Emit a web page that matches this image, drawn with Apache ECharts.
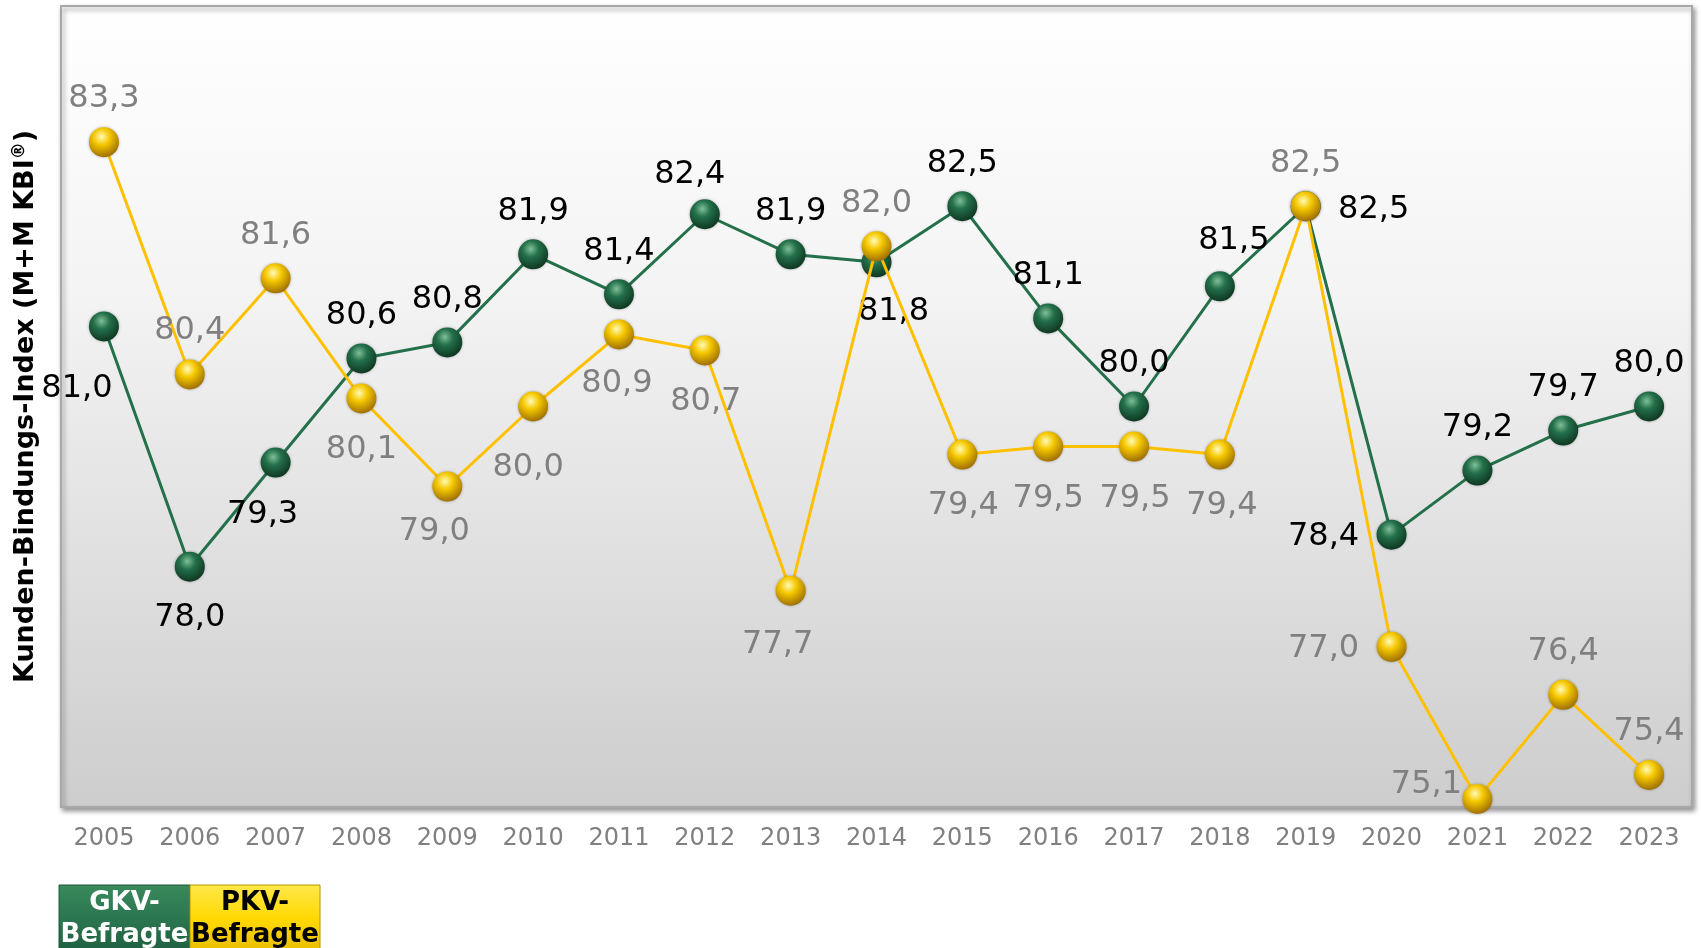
<!DOCTYPE html>
<html>
<head>
<meta charset="utf-8">
<script src="https://cdn.jsdelivr.net/npm/echarts@6/dist/echarts.min.js"></script>
<style>
html,body{margin:0;padding:0;background:#fff;}
#chart{width:1701px;height:948px;}
</style>
</head>
<body>
<div id="chart"></div>
<script>
// ---- data ----
var years = ['2005','2006','2007','2008','2009','2010','2011','2012','2013','2014','2015','2016','2017','2018','2019','2020','2021','2022','2023'];
var gkvValues = [81.0,78.0,79.3,80.6,80.8,81.9,81.4,82.4,81.9,81.8,82.5,81.1,80.0,81.5,82.5,78.4,79.2,79.7,80.0];
var pkvValues = [83.3,80.4,81.6,80.1,79.0,80.0,80.9,80.7,77.7,82.0,79.4,79.5,79.5,79.4,82.5,77.0,75.1,76.4,75.4];
var seriesNames = ['GKV-Befragte','PKV-Befragte'];
var legendLabels = ['GKV-\nBefragte','PKV-\nBefragte'];
var yAxisTitle = 'Kunden-Bindungs-Index (M+M KBI';

// ---- label placement (offsets from marker centre, px) ----
var gkvLabelOffsets = [[-27,62],[0,51],[-13,52],[0,-43],[0,-43],[0,-43],[0,-43],[-15,-40],[0,-43],[17,49],[0,-43],[0,-43],[0,-43],[14,-46],[68,3],[-68,2],[0,-43],[0,-43],[0,-43]];
var pkvLabelOffsets = [[0,-43],[0,-44],[0,-43],[0,51],[-13,45],[-5,61],[-2,49],[1,51],[-13,54],[0,-43],[1,51],[0,52],[1,52],[2,51],[0,-43],[-68,2],[-51,-14],[0,-43],[0,-43]];

var FONT = '"DejaVu Sans", Verdana, sans-serif';

function sphere(light, mid, dark) {
  return {
    type: 'radial', x: 0.42, y: 0.32, r: 0.68,
    colorStops: [
      {offset: 0, color: light},
      {offset: 0.4, color: mid},
      {offset: 1, color: dark}
    ]
  };
}

function buildData(values, offsets, color) {
  return values.map(function (v, i) {
    return {
      value: v,
      label: {
        show: true,
        position: 'inside',
        offset: offsets[i],
        color: color,
        fontFamily: FONT,
        fontSize: 32,
        formatter: function (p) { return p.value.toFixed(1).replace('.', ','); }
      }
    };
  });
}

var chart = echarts.init(document.getElementById('chart'), null, {renderer: 'canvas'});

var option = {
  animation: false,
  backgroundColor: '#ffffff',
  grid: {
    left: 61, right: 9, top: 6, bottom: 141,
    outerBoundsMode: 'none',
    containLabel: false,
    show: true,
    backgroundColor: {
      type: 'linear', x: 0, y: 0, x2: 0, y2: 1,
      colorStops: [
        {offset: 0, color: '#ffffff'},
        {offset: 0.35, color: '#f4f4f4'},
        {offset: 1, color: '#cdcdcd'}
      ]
    },
    borderColor: '#a8a8a8',
    borderWidth: 2,
    shadowColor: 'rgba(0,0,0,0.4)',
    shadowBlur: 5,
    shadowOffsetX: 2,
    shadowOffsetY: 3
  },
  xAxis: {
    type: 'category',
    data: years,
    boundaryGap: true,
    axisLine: {show: false},
    axisTick: {show: false},
    axisLabel: {
      color: '#808080',
      fontFamily: FONT,
      fontSize: 24,
      margin: 20
    },
    splitLine: {show: false}
  },
  yAxis: {
    type: 'value',
    min: 75,
    max: 85,
    interval: 5,
    axisLine: {show: false},
    axisTick: {show: false},
    axisLabel: {show: false},
    splitLine: {show: false},
    name: '{t|' + yAxisTitle + '}{s|®}{t|)}',
    nameLocation: 'middle',
    nameRotate: 90,
    nameGap: 21,
    nameTextStyle: {
      rich: {
        t: {fontFamily: FONT, fontWeight: 'bold', fontSize: 27, color: '#000'},
        s: {fontFamily: FONT, fontWeight: 'bold', fontSize: 17, color: '#000', padding: [0, 0, 12, 0]}
      }
    }
  },
  series: [
    {
      name: seriesNames[0],
      type: 'line',
      data: buildData(gkvValues, gkvLabelOffsets, '#000000'),
      symbol: 'circle',
      symbolSize: 30,
      lineStyle: {color: '#23704a', width: 3},
      itemStyle: {
        color: sphere('#7fbf98', '#23704a', '#0f3822'),
        shadowColor: 'rgba(0,0,0,0.3)', shadowBlur: 3
      },
      z: 2
    },
    {
      name: seriesNames[1],
      type: 'line',
      data: buildData(pkvValues, pkvLabelOffsets, '#808080'),
      symbol: 'circle',
      symbolSize: 30,
      lineStyle: {color: '#ffc000', width: 3},
      itemStyle: {
        color: sphere('#fffbb8', '#f5c800', '#a07000'),
        shadowColor: 'rgba(0,0,0,0.3)', shadowBlur: 3
      },
      z: 3
    }
  ],
  graphic: [
    {
      type: 'rect', x: 59, y: 885,
      shape: {width: 131, height: 70},
      style: {
        fill: {type: 'linear', x: 0, y: 0, x2: 0, y2: 1,
          colorStops: [{offset: 0, color: '#3a8a5c'}, {offset: 0.5, color: '#2a7550'}, {offset: 1, color: '#1e5e3e'}]},
        stroke: '#1d5a3b', lineWidth: 1
      }
    },
    {
      type: 'rect', x: 190, y: 885,
      shape: {width: 130, height: 70},
      style: {
        fill: {type: 'linear', x: 0, y: 0, x2: 0, y2: 1,
          colorStops: [{offset: 0, color: '#ffe84a'}, {offset: 0.5, color: '#ffd800'}, {offset: 1, color: '#e6bb00'}]},
        stroke: '#b89400', lineWidth: 1
      }
    },
    {
      type: 'text', x: 124.5, y: 887,
      style: {
        text: legendLabels[0], fill: '#ffffff',
        font: 'bold 26px "DejaVu Sans", Verdana, sans-serif',
        lineHeight: 32, align: 'center', verticalAlign: 'top'
      },
      z: 10
    },
    {
      type: 'text', x: 255, y: 887,
      style: {
        text: legendLabels[1], fill: '#000000',
        font: 'bold 26px "DejaVu Sans", Verdana, sans-serif',
        lineHeight: 32, align: 'center', verticalAlign: 'top'
      },
      z: 10
    }
  ]
};

chart.setOption(option);
</script>
</body>
</html>
